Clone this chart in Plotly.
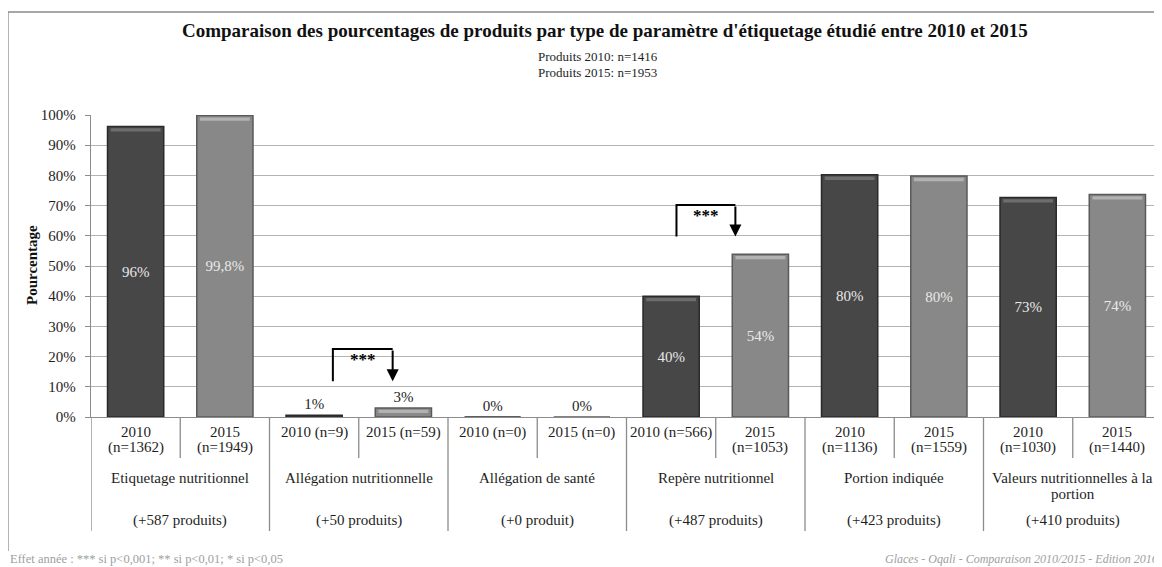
import plotly.graph_objects as go

# ---------------- data ----------------
groups = ["Etiquetage nutritionnel", "Allégation nutritionnelle", "Allégation de santé",
          "Repère nutritionnel", "Portion indiquée", "Valeurs nutritionnelles à la<br>portion"]
deltas = ["(+587 produits)", "(+50 produits)", "(+0 produit)",
          "(+487 produits)", "(+423 produits)", "(+410 produits)"]
values_2010 = [96.2, 0.6, 0.0, 40.0, 80.2, 72.7]
values_2015 = [99.8, 3.0, 0.0, 53.9, 79.8, 73.7]
labels_2010 = ["96%", "1%", "0%", "40%", "80%", "73%"]
labels_2015 = ["99,8%", "3%", "0%", "54%", "80%", "74%"]
year_labels_2010 = ["2010<br>(n=1362)", "2010 (n=9)", "2010 (n=0)", "2010 (n=566)",
                    "2010<br>(n=1136)", "2010<br>(n=1030)"]
year_labels_2015 = ["2015<br>(n=1949)", "2015 (n=59)", "2015 (n=0)", "2015<br>(n=1053)",
                    "2015<br>(n=1559)", "2015<br>(n=1440)"]
y_ticks = [0, 10, 20, 30, 40, 50, 60, 70, 80, 90, 100]
# significance brackets: group index, left/right offset in group, bottom, top (in %)
sig_groups = [0, 1, 3]
sig_left = [-0.20, -0.145, -0.22]
sig_right = [0.13, 0.19, 0.11]
sig_bottom = [101.5, 11.8, 59.8]
sig_top = [111.9, 22.5, 70.2]
sig_text = ["***", "***", "***"]

title = "Comparaison des pourcentages de produits par type de paramètre d'étiquetage étudié entre 2010 et 2015"
subtitle = "Produits 2010: n=1416<br>Produits 2015: n=1953"
footer_left = "Effet année : *** si p<0,001; ** si p<0,01; * si p<0,05"
footer_right = "Glaces - Oqali - Comparaison 2010/2015 - Edition 2016"

# ---------------- layout geometry ----------------
# The page body has an 8px margin: the figure is drawn at page offset (8, 8).
OFF = 8
PAGE_W, PAGE_H = 1162, 567
W, H = PAGE_W - OFF, PAGE_H - OFF
PLOT_L, PLOT_T, PLOT_B = 91, 115, 417          # page pixels
L, T = PLOT_L - OFF, PLOT_T - OFF
B = H - (PLOT_B - OFF)
R = 0
PW, PH = W - L - R, H - T - B
FONT = "Liberation Serif"
TXT = "#1e1e1e"
GRID = "#b4b4b4"
AXC = "#8c8c8c"

BAR_W = 0.315          # bar width in category units
BEVEL_IN = 0.018       # inset of the top bevel strip
BEVEL_H = 1.1          # height of bevel strip (in % units)


def px(x):
    """page pixel x -> paper coordinate"""
    return (x - PLOT_L) / PW


def py(y):
    """page pixel y -> paper coordinate"""
    return (PLOT_B - y) / PH


def inside_pos(vals):
    return ["inside" if v >= 10 else "outside" for v in vals]


fig = go.Figure()
series = [(values_2010, labels_2010, -0.25, "#474747", "#2a2a2a", "#6e6e6e"),
          (values_2015, labels_2015, 0.25, "#888888", "#5a5a5a", "#b2b2b2")]
for vals, labs, shift, fill, edge, light in series:
    fig.add_trace(go.Bar(
        x=list(range(len(groups))), y=vals, text=labs,
        width=BAR_W, offset=shift - BAR_W / 2,
        textposition=inside_pos(vals), insidetextanchor="middle",
        textangle=0, constraintext="none", cliponaxis=False,
        insidetextfont=dict(family=FONT, size=15, color="#e8e8e8"),
        outsidetextfont=dict(family=FONT, size=15, color=TXT),
        marker=dict(color=fill, line=dict(color=edge, width=1.5)),
        showlegend=False, hoverinfo="skip"))
for vals, labs, shift, fill, edge, light in series:
    # light bevel strip along the top of each bar
    fig.add_trace(go.Bar(
        x=list(range(len(groups))),
        y=[BEVEL_H if v > 2 else 0 for v in vals],
        base=[v - BEVEL_H - 0.6 if v > 2 else 0 for v in vals],
        width=BAR_W - 2 * BEVEL_IN, offset=shift - BAR_W / 2 + BEVEL_IN,
        marker=dict(color=light, line=dict(width=0)),
        showlegend=False, hoverinfo="skip"))

annotations = []
shapes = []


def add_lines(text, x, xref, y0, spacing, size=15, color=TXT, anchor="center"):
    for i, line in enumerate(text.split("<br>")):
        annotations.append(dict(text=line, x=x, xref=xref, y=py(y0 + i * spacing), yref="paper",
                                xanchor=anchor, yanchor="middle", showarrow=False,
                                font=dict(family=FONT, size=size, color=color)))


for g in range(len(groups)):
    add_lines(year_labels_2010[g], g - 0.25, "x", 432, 15)
    add_lines(year_labels_2015[g], g + 0.25, "x", 432, 15)
    add_lines(groups[g], g, "x", 478, 16)
    add_lines(deltas[g], g, "x", 520, 16)
    shapes.append(dict(type="line", xref="x", yref="paper", x0=g, x1=g,
                       y0=0, y1=py(458), line=dict(color=AXC, width=1.3)))
for b in range(len(groups) + 1):
    xb = b - 0.5
    shapes.append(dict(type="line", xref="x", yref="paper", x0=xb, x1=xb,
                       y0=0, y1=py(531), line=dict(color=AXC, width=1.3)))

# significance brackets
for g, lo, ro, yb, yt, st in zip(sig_groups, sig_left, sig_right, sig_bottom, sig_top, sig_text):
    xl, xr = g + lo, g + ro
    shapes.append(dict(type="path", xref="x", yref="y",
                       path=f"M {xl} {yb} L {xl} {yt} L {xr} {yt}",
                       line=dict(color="black", width=2)))
    annotations.append(dict(x=xr, y=yb, xref="x", yref="y", ax=xr, ay=yt,
                            axref="x", ayref="y", showarrow=True, arrowhead=2,
                            arrowsize=1.2, arrowwidth=2, arrowcolor="black", text=""))
    annotations.append(dict(x=(xl + xr) / 2, y=yt - 3.6, xref="x", yref="y",
                            text=f"<b>{st}</b>", showarrow=False,
                            font=dict(family=FONT, size=17, color="black")))

# titles & footers
annotations.append(dict(text=f"<b>{title}</b>", x=px(605), y=py(31), xref="paper", yref="paper",
                        xanchor="center", yanchor="middle", showarrow=False,
                        font=dict(family=FONT, size=19, color="#111")))
add_lines(subtitle, px(536), "paper", 57, 16, size=13, anchor="left")
annotations.append(dict(text="<b>Pourcentage</b>", x=px(32), y=py(265), xref="paper", yref="paper",
                        textangle=-90, xanchor="center", yanchor="middle", showarrow=False,
                        font=dict(family=FONT, size=15, color="#111")))
annotations.append(dict(text=footer_left, x=px(8), y=py(559), xref="paper", yref="paper",
                        xanchor="left", yanchor="middle", showarrow=False,
                        font=dict(family=FONT, size=12.5, color="#a0a0a0")))
annotations.append(dict(text=f"<i>{footer_right}</i>", x=px(1160), y=py(559), xref="paper", yref="paper",
                        xanchor="right", yanchor="middle", showarrow=False,
                        font=dict(family=FONT, size=12, color="#a0a0a0")))

# outer chart border (left + top)
shapes.append(dict(type="path", xref="paper", yref="paper", layer="below",
                   path=f"M {px(8)} {py(551)} L {px(8)} {py(12)} L {px(1175)} {py(12)}",
                   line=dict(color="#8a8a8a", width=1.3)))

fig.update_layout(
    width=W, height=H, margin=dict(l=L, r=R, t=T, b=B, autoexpand=False),
    paper_bgcolor="white", plot_bgcolor="white",
    barmode="overlay",
    annotations=annotations, shapes=shapes, showlegend=False,
    xaxis=dict(range=[-0.5, len(groups) - 0.5], showticklabels=False, showgrid=False,
               zeroline=False, showline=True, linecolor=AXC, linewidth=1.3, ticks=""),
    yaxis=dict(range=[0, 100], tickvals=y_ticks, ticktext=[f"{v}%" for v in y_ticks],
               showgrid=True, gridcolor=GRID, gridwidth=1.3, zeroline=False,
               showline=True, linecolor=AXC, linewidth=1.3, ticks="outside", ticklen=5,
               tickcolor=AXC, ticklabelstandoff=6,
               tickfont=dict(family=FONT, size=15, color=TXT)),
)

fig.write_html("out.html")
